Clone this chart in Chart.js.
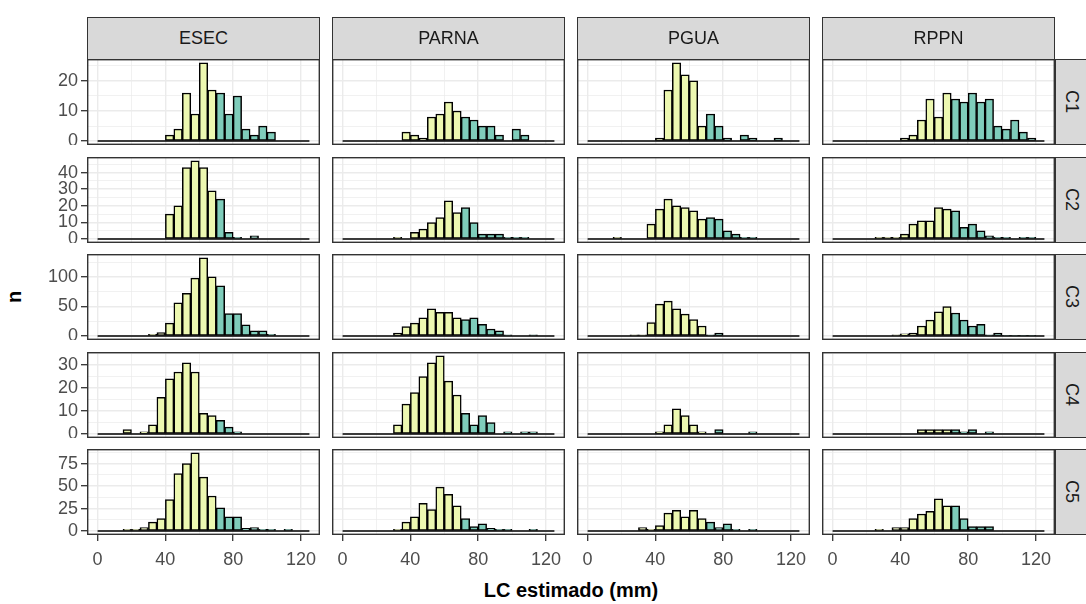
<!DOCTYPE html>
<html>
<head>
<meta charset="utf-8">
<script src="https://cdn.jsdelivr.net/npm/chart.js@4.4.0/dist/chart.umd.min.js"></script>
<style>
  body { margin: 0; width: 1086px; height: 604px; overflow: hidden; background: #fff; position: relative;
         font-family: 'Liberation Sans', Arial, sans-serif; }
  canvas { position: absolute; }
  .strip { position: absolute; background: #d9d9d9; border: 1.3px solid #333; box-sizing: border-box;
           color: #1a1a1a; font-size: 18px; display: flex; align-items: center; justify-content: center; }
  .strip.side span { writing-mode: vertical-rl; margin-right: 12px; }
  .title { position: absolute; font-weight: bold; font-size: 20px; color: #000; white-space: nowrap; }
</style>
</head>
<body>
<script>
// facets
const sites = ['ESEC', 'PARNA', 'PGUA', 'RPPN'];
const classes = ['C1', 'C2', 'C3', 'C4', 'C5'];

// histogram bins (mm), 5 mm wide
const binWidth = 5;
const binStart = [0, 5, 10, 15, 20, 25, 30, 35, 40, 45, 50, 55, 60, 65, 70, 75, 80, 85, 90, 95, 100, 105, 110, 115, 120];
const cutoff = 70; // bins from here are drawn teal

// axis ticks
const xTicks = [0, 40, 80, 120];
const yTickRows = [[0, 10, 20], [0, 10, 20, 30, 40], [0, 50, 100], [0, 10, 20, 30], [0, 25, 50, 75]];

// counts per bin
const esecC1  = [0,0,0,0,0,0,0,0, 2,4,16,9,26,17,16,9,15,4,2,5,3, 0,0,0,0];
const parnaC1 = [0,0,0,0,0,0,0,3, 2,1,8,9,13,10,8,7,5,5,2,0,4,2, 0,0,0];
const pguaC1  = [0,0,0,0,0,0,0,0, 1,17,26,22,20,5,9,5,1,0,2,1,0,0,1,0,0];
const rppnC1  = [0,0,0,0,0,0,0,0, 1,2,7,14,8,16,14,13,16,13,14,5,4,7,3,1,0];

const esecC2  = [0,0,0,0,0,0,0,0, 15,20,43,47,43,29,24,4,1,0,2,0,0,0,0,0,0];
const parnaC2 = [0,0,0,0,0,0,1,0, 4,6,10,13,23,16,19,10,3,3,3,1,1,1,0,0,0];
const pguaC2  = [0,0,0,1,0,0,0,9, 18,24,20,19,17,12,13,12,5,3,1,1,0,0,0,0,0];
const rppnC2  = [0,0,0,0,0,1,1,1, 3,9,11,11,19,18,17,7,9,5,2,1,1,0,1,1,0];

const esecC3  = [0,0,0,0,0,0,3,6, 22,56,72,98,132,100,85,38,38,19,9,9,3,0,0,0,0];
const parnaC3 = [0,0,0,0,0,0,5,16, 22,31,46,40,40,31,28,31,20,12,9,2,0,0,2,0,0];
const pguaC3  = [0,0,0,0,0,2,2,23, 54,59,46,37,28,17,2,5,0,0,0,0,0,0,0,0,0];
const rppnC3  = [0,0,0,0,0,0,0,2, 4,5,17,27,41,50,39,27,17,20,2,5,1,1,1,1,0];

const esecC4  = [0,0,0,2,0,1,4,16, 24,27,31,27,9,8,6,3,1,0,0,0,0,0,0,0,0];
const parnaC4 = [0,0,0,0,0,0,4,13, 18,25,31,34,23,17,9,4,8,5,0,1,0,1,1,0,0];
const pguaC4  = [0,0,0,0,0,0,0,0, 1,4,11,8,4,1,0,2,0,0,0,1,0,0,0,0,0];
const rppnC4  = [0,0,0,0,0,0,0,0, 0,0,2,2,2,2,2,1,2,0,1,0,0,0,0,0,0];

const esecC5  = [0,0,0,2,2,4,10,14, 35,64,75,87,60,39,26,16,16,3,4,2,2,0,2,0,0];
const parnaC5 = [0,0,0,0,0,0,2,10, 16,31,24,49,41,28,14,5,8,3,2,2,0,0,2,0,0];
const pguaC5  = [0,0,0,0,0,0,4,2, 6,20,23,16,23,14,10,4,8,2,0,2,0,0,0,0,0];
const rppnC5  = [0,0,0,0,0,2,0,4, 4,14,19,22,36,28,28,14,5,5,5,0,0,0,0,0,0];

const counts = {
  ESEC:  [esecC1, esecC2, esecC3, esecC4, esecC5],
  PARNA: [parnaC1, parnaC2, parnaC3, parnaC4, parnaC5],
  PGUA:  [pguaC1, pguaC2, pguaC3, pguaC4, pguaC5],
  RPPN:  [rppnC1, rppnC2, rppnC3, rppnC4, rppnC5]
};

// look
const yellow = '#edf8b1';
const teal = '#7fcdbb';
const gridColor = '#ebebeb';
const tickFont = { family: "'Liberation Sans', Arial, sans-serif", size: 18 };

// layout
const colLeft = [87, 332, 577, 822];
const rowTop = [59, 157, 254, 352, 449];
const panelW = 233, panelH = 86;
const yAxisW = 48, xAxisH = 40;

const framePlugin = {
  id: 'frame',
  afterDraw(chart) {
    const { ctx, chartArea: a } = chart;
    ctx.save();
    ctx.strokeStyle = '#333';
    ctx.lineWidth = 1.4;
    ctx.strokeRect(a.left + 0.7, a.top + 0.7, a.right - a.left - 1.4, a.bottom - a.top - 1.4);
    ctx.restore();
  }
};

const xLo = binStart[0], xHi = binStart[binStart.length - 1] + binWidth;
const xPad = (xHi - xLo) * 0.05;
const xGrid = [0, 20, 40, 60, 80, 100, 120];

function addDiv(cls, left, top, w, h, html) {
  const d = document.createElement('div');
  d.className = cls;
  Object.assign(d.style, { left: left + 'px', top: top + 'px', width: w + 'px', height: h + 'px' });
  d.innerHTML = html;
  document.body.appendChild(d);
  return d;
}

classes.forEach((cls, r) => {
  const rowMax = Math.max(...sites.map(s => Math.max(...counts[s][r])));
  const major = yTickRows[r];
  const half = (major[1] - major[0]) / 2;
  const yGrid = [];
  for (let v = 0; v <= rowMax * 1.05; v += half) yGrid.push(v);

  sites.forEach((site, c) => {
    const left = c === 0, bottom = r === classes.length - 1;
    const vals = counts[site][r];
    const cv = document.createElement('canvas');
    const w = panelW + (left ? yAxisW : 0), h = panelH + (bottom ? xAxisH : 0);
    cv.width = w; cv.height = h;
    cv.style.left = (colLeft[c] - (left ? yAxisW : 0)) + 'px';
    cv.style.top = rowTop[r] + 'px';
    document.body.appendChild(cv);

    new Chart(cv, {
      type: 'bar',
      data: {
        datasets: [
          {
            type: 'line',
            data: [{ x: xLo, y: 0 }, { x: xHi, y: 0 }],
            borderColor: '#000',
            borderWidth: 1.5,
            pointRadius: 0,
            order: 0
          },
          {
            type: 'bar',
            data: binStart.map((b, i) => ({ x: b + binWidth / 2, y: vals[i] })),
            backgroundColor: ctx => binStart[ctx.dataIndex] >= cutoff ? teal : yellow,
            borderColor: '#000',
            borderWidth: 1.5,
            borderSkipped: false,
            barPercentage: 1,
            categoryPercentage: 1,
            order: 1
          }
        ]
      },
      options: {
        responsive: false,
        animation: false,
        layout: { padding: 0 },
        plugins: { legend: { display: false }, tooltip: { enabled: false } },
        scales: {
          x: {
            type: 'linear',
            min: xLo - xPad,
            max: xHi + xPad,
            offset: false,
            afterBuildTicks: s => { s.ticks = xGrid.map(v => ({ value: v })); },
            ticks: {
              display: bottom, autoSkip: false, maxRotation: 0, color: '#4d4d4d', font: tickFont, padding: 8,
              callback: v => xTicks.includes(v) ? v : ''
            },
            grid: {
              offset: false,
              color: gridColor,
              lineWidth: ctx => ctx.tick && xTicks.includes(ctx.tick.value) ? 1.4 : 0.7,
              drawTicks: bottom,
              tickLength: 6,
              tickWidth: 1.3,
              tickColor: ctx => ctx.tick && xTicks.includes(ctx.tick.value) ? '#333' : 'rgba(0,0,0,0)'
            },
            border: { display: false },
            afterFit: s => { s.height = bottom ? xAxisH : 0; s.paddingLeft = 0; s.paddingRight = 0; }
          },
          y: {
            min: -rowMax * 0.05,
            max: rowMax * 1.05,
            afterBuildTicks: s => { s.ticks = yGrid.map(v => ({ value: v })); },
            ticks: {
              display: left, autoSkip: false, color: '#4d4d4d', font: tickFont, padding: 3,
              callback: v => major.includes(v) ? v : ''
            },
            grid: {
              color: gridColor,
              lineWidth: ctx => ctx.tick && major.includes(ctx.tick.value) ? 1.4 : 0.7,
              drawTicks: left,
              tickLength: 6,
              tickWidth: 1.3,
              tickColor: ctx => ctx.tick && major.includes(ctx.tick.value) ? '#333' : 'rgba(0,0,0,0)'
            },
            border: { display: false },
            afterFit: s => { s.width = left ? yAxisW : 0; s.paddingTop = 0; s.paddingBottom = 0; }
          }
        }
      },
      plugins: [framePlugin]
    });
  });

  // row strip on the right
  addDiv('strip side', 1055, rowTop[r], 44, panelH, '<span>' + cls + '</span>');
});

// column strips
sites.forEach((site, c) => addDiv('strip', colLeft[c], 17, panelW, rowTop[0] - 17 + 1, site));

// axis titles
const xt = addDiv('title', 87, 579, 1055 - 87, 24, 'LC estimado (mm)');
xt.style.textAlign = 'center';
const yt = addDiv('title', 3, 285, 24, 24, 'n');
yt.style.transform = 'rotate(-90deg)';
yt.style.textAlign = 'center';
</script>
</body>
</html>
